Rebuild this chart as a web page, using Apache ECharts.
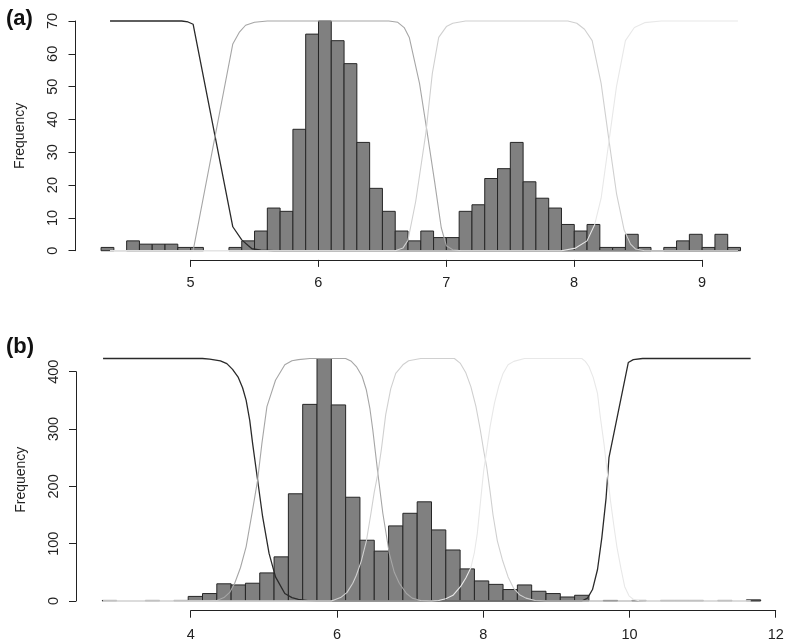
<!DOCTYPE html>
<html>
<head>
<meta charset="utf-8">
<script src="https://cdn.jsdelivr.net/npm/echarts@6/dist/echarts.min.js"></script>
<style>
html,body{margin:0;padding:0;background:#fff;}
#chart{width:787px;height:644px;}
</style>
</head>
<body>
<div id="chart"></div>
<script>
// ---------- Panel (a) data ----------
const aBinStart = 4.3;
const aBinWidth = 0.1;
const aCounts = [1,0,3,2,2,2,1,1,0,0,1,3,6,13,12,37,66,70,64,57,33,19,12,6,3,6,4,4,12,14,22,25,33,21,16,13,8,6,8,1,1,5,1,0,1,3,5,1,5,1];
const aXTicks = [5,6,7,8,9];
const aYTicks = [0,10,20,30,40,50,60,70];
const aCurve1 = [[4.37,70],[4.93,70],[4.98,69.7],[5.02,69],[5.33,7.3],[5.40,3.3],[5.45,1.6],[5.48,0.6],[5.55,0.15],[5.65,0],[9.28,0]];
const aCurve2 = [[4.37,0],[5.02,0],[5.03,0.3],[5.33,63],[5.38,66.5],[5.43,68.7],[5.50,69.6],[5.60,70],[6.55,70],[6.62,69.6],[6.67,68],[6.71,65],[6.79,51],[6.85,36],[6.91,20.5],[6.96,7],[7.00,1.5],[7.05,0.3],[7.12,0],[9.28,0]];
const aCurve3 = [[4.37,0],[6.60,0],[6.66,0.8],[6.70,3.2],[6.76,15],[6.84,36],[6.89,54],[6.94,65],[7.00,68.3],[7.05,69.3],[7.15,70],[7.95,70],[8.02,69.3],[8.08,67.5],[8.14,64],[8.21,51],[8.27,34],[8.33,17.5],[8.39,6.3],[8.44,2],[8.48,0.5],[8.55,0],[9.28,0]];
const aCurve4 = [[4.37,0],[7.90,0],[8.01,0.8],[8.10,3],[8.16,8],[8.21,16],[8.27,33],[8.33,50],[8.40,64],[8.47,68],[8.55,69.5],[8.68,70],[9.28,70]];

// ---------- Panel (b) data ----------
const bBinStart = 2.8;
const bBinWidth = 0.2;
const bCounts = [1,0,0,1,0,1,8,13,30,28,31,49,77,187,343,423,342,181,106,87,131,153,173,124,89,56,35,29,20,28,17,13,7,10,0,1,0,1,0,1,1,1,0,1,0,2];
const bXTicks = [4,6,8,10,12];
const bYTicks = [0,100,200,300,400];
const bCurve1 = [[2.81,423],[4.20,423],[4.30,422],[4.45,419],[4.54,414],[4.62,404],[4.70,390],[4.76,372],[4.81,350],[4.86,315],[4.90,275],[4.97,211],[5.04,147],[5.13,83],[5.22,42],[5.35,13],[5.45,6],[5.54,3],[5.67,0.5],[5.80,0],[9.50,0],[9.58,5],[9.65,20],[9.72,55],[9.78,110],[9.84,180],[9.88,250],[10.15,416],[10.22,421],[10.35,423],[11.86,423]];
const bCurve2 = [[2.81,0],[4.30,0],[4.40,1],[4.50,6],[4.58,15],[4.65,31],[4.73,58],[4.81,95],[4.90,159],[4.97,211],[5.03,275],[5.10,339],[5.22,385],[5.35,412],[5.45,419],[5.54,421],[5.70,423],[6.20,423],[6.28,418],[6.35,409],[6.43,392],[6.49,368],[6.54,335],[6.58,298],[6.65,223],[6.72,153],[6.81,83],[6.88,50],[6.95,31],[7.05,13],[7.13,5],[7.25,1],[7.40,0],[11.86,0]];
const bCurve3 = [[2.81,0],[6.00,0],[6.13,6],[6.22,15],[6.30,31],[6.35,45],[6.42,70],[6.49,105],[6.55,150],[6.60,190],[6.65,222],[6.70,265],[6.76,325],[6.83,370],[6.90,397],[7.00,412],[7.08,419],[7.25,423],[7.72,423],[7.80,415],[7.88,398],[7.95,374],[8.02,340],[8.08,300],[8.13,262],[8.17,235],[8.22,190],[8.26,150],[8.32,105],[8.39,72],[8.47,42],[8.55,22],[8.63,11],[8.72,5],[8.85,1],[9.00,0],[11.86,0]];
const bCurve4 = [[2.81,0],[7.40,0],[7.50,1],[7.60,4],[7.70,10],[7.81,26],[7.88,40],[7.95,58],[8.00,85],[8.04,118],[8.10,192],[8.13,228],[8.17,262],[8.22,305],[8.28,345],[8.34,375],[8.40,397],[8.47,412],[8.55,418],[8.70,423],[9.50,423],[9.55,418],[9.60,409],[9.66,390],[9.72,362],[9.76,320],[9.81,275],[9.86,220],[9.90,176],[9.95,130],[9.99,95],[10.05,55],[10.10,25],[10.16,9],[10.22,3],[10.30,0.5],[10.40,0],[11.86,0]];

// ---------- build ----------
function bins(start, width, counts){
  const out = [];
  counts.forEach((c,i)=>{
    const x0 = +(start + i*width).toFixed(4);
    const x1 = +(start + (i+1)*width).toFixed(4);
    out.push([x0, x1, c]);
  });
  return out;
}
const FONT = 'Liberation Sans, Arial, Helvetica, sans-serif';
const curveColors = ['#2a2a2a','#a6a6a6','#d0d0d0','#e8e8e8'];

function histSeries(data, xi, yi){
  return {
    type:'custom', xAxisIndex:xi, yAxisIndex:yi, silent:true, animation:false,
    encode:{x:[0,1], y:2},
    data:data,
    renderItem:function(params, api){
      const c = api.value(2);
      if (c <= 0) return null;
      const p0 = api.coord([api.value(0), 0]);
      const p1 = api.coord([api.value(1), c]);
      return {type:'rect', shape:{x:p0[0], y:p1[1], width:p1[0]-p0[0], height:p0[1]-p1[1]},
        style:{fill:'#808080', stroke:'#262626', lineWidth:1}};
    },
    z:2
  };
}
function curveSeries(data, xi, yi, k){
  return {type:'line', xAxisIndex:xi, yAxisIndex:yi, data:data, showSymbol:false, symbol:'none',
    smooth:false, silent:true, animation:false, z:3+k,
    lineStyle:{color:curveColors[k], width:k === 0 ? 1.3 : 1.1}};
}

const chart = echarts.init(document.getElementById('chart'), null, {renderer:'canvas'});

const hidden = {show:false};
const axisTextStyle = {color:'#222', fontSize:14.5, fontFamily:FONT};

const option = {
  backgroundColor:'#fff',
  animation:false,
  title:[
    {text:'(a)', left:1, top:3, textStyle:{fontSize:22, fontWeight:'bold', fontFamily:FONT, color:'#111'}},
    {text:'(b)', left:1, top:331, textStyle:{fontSize:22, fontWeight:'bold', fontFamily:FONT, color:'#111'}}
  ],
  grid:[
    {left:75.5, top:11.8, width:690.6, height:248.1},          // 0 (a) plot
    {left:75.5, top:21, width:10, height:229.7},               // 1 (a) y axis
    {left:190.5, top:249.9, width:511.5, height:10},           // 2 (a) x axis
    {left:76, top:348.8, width:726.6, height:261.9},           // 3 (b) plot
    {left:76, top:371.7, width:10, height:229.3},              // 4 (b) y axis
    {left:190.7, top:600.7, width:585, height:10}              // 5 (b) x axis
  ],
  xAxis:[
    {gridIndex:0, type:'value', min:4.1, max:9.5, show:false},
    {gridIndex:1, type:'value', show:false},
    {gridIndex:2, type:'value', min:aXTicks[0], max:aXTicks[aXTicks.length-1], interval:1,
      axisLine:{show:true, lineStyle:{color:'#222', width:1}},
      axisTick:{show:true, length:7, lineStyle:{color:'#222'}},
      axisLabel:Object.assign({margin:16}, axisTextStyle),
      splitLine:hidden},
    {gridIndex:3, type:'value', min:2.432, max:12.368, show:false},
    {gridIndex:4, type:'value', show:false},
    {gridIndex:5, type:'value', min:bXTicks[0], max:bXTicks[bXTicks.length-1], interval:2,
      axisLine:{show:true, lineStyle:{color:'#222', width:1}},
      axisTick:{show:true, length:7, lineStyle:{color:'#222'}},
      axisLabel:Object.assign({margin:17}, axisTextStyle),
      splitLine:hidden}
  ],
  yAxis:[
    {gridIndex:0, type:'value', min:-2.8, max:72.8, axisLine:hidden, axisTick:hidden, axisLabel:hidden, splitLine:hidden,
      name:'Frequency', nameLocation:'middle', nameGap:48, nameRotate:90,
      nameTextStyle:{color:'#222', fontSize:14, fontFamily:FONT}},
    {gridIndex:1, type:'value', min:aYTicks[0], max:aYTicks[aYTicks.length-1], interval:10,
      axisLine:{show:true, lineStyle:{color:'#222', width:1}},
      axisTick:{show:true, length:7, lineStyle:{color:'#222'}},
      axisLabel:Object.assign({margin:15, rotate:90}, axisTextStyle),
      splitLine:hidden},
    {gridIndex:2, type:'value', show:false},
    {gridIndex:3, type:'value', min:-16.92, max:439.92, axisLine:hidden, axisTick:hidden, axisLabel:hidden, splitLine:hidden,
      name:'Frequency', nameLocation:'middle', nameGap:48, nameRotate:90,
      nameTextStyle:{color:'#222', fontSize:14, fontFamily:FONT}},
    {gridIndex:4, type:'value', min:bYTicks[0], max:bYTicks[bYTicks.length-1], interval:100,
      axisLine:{show:true, lineStyle:{color:'#222', width:1}},
      axisTick:{show:true, length:7, lineStyle:{color:'#222'}},
      axisLabel:Object.assign({margin:15, rotate:90}, axisTextStyle),
      splitLine:hidden},
    {gridIndex:5, type:'value', show:false}
  ],
  series:[
    histSeries(bins(aBinStart, aBinWidth, aCounts), 0, 0),
    curveSeries(aCurve1, 0, 0, 0),
    curveSeries(aCurve2, 0, 0, 1),
    curveSeries(aCurve3, 0, 0, 2),
    curveSeries(aCurve4, 0, 0, 3),
    histSeries(bins(bBinStart, bBinWidth, bCounts), 3, 3),
    curveSeries(bCurve1, 3, 3, 0),
    curveSeries(bCurve2, 3, 3, 1),
    curveSeries(bCurve3, 3, 3, 2),
    curveSeries(bCurve4, 3, 3, 3)
  ]
};
chart.setOption(option);
</script>
</body>
</html>
